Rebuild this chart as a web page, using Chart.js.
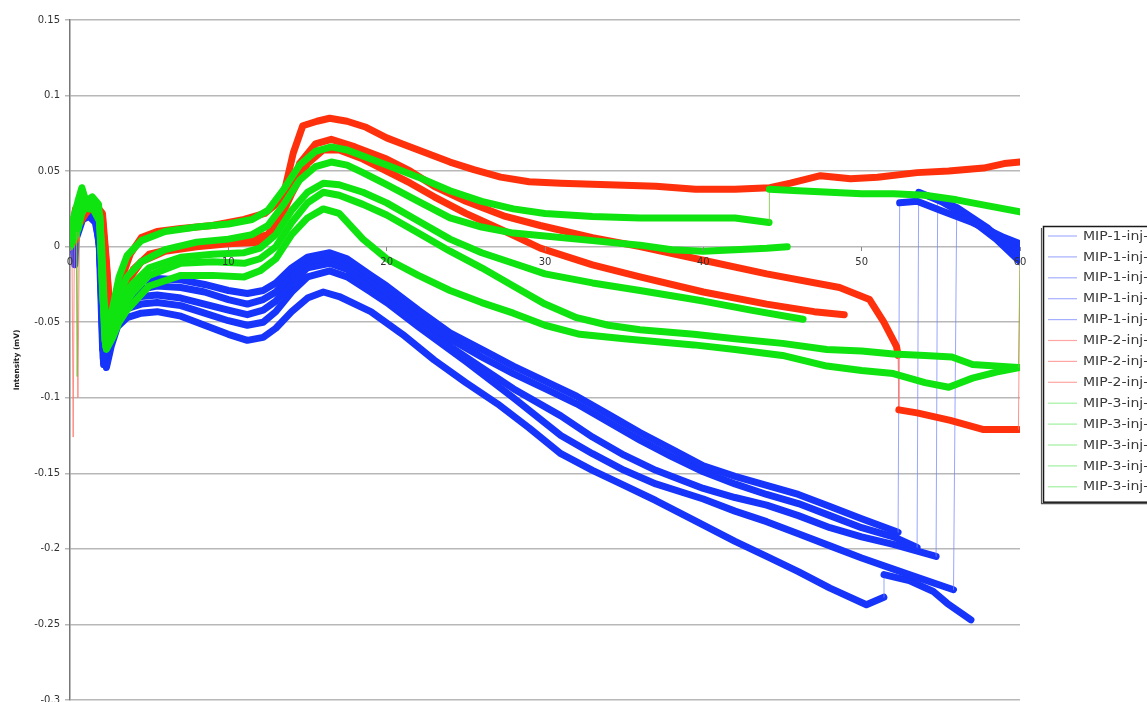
<!DOCTYPE html>
<html>
<head>
<meta charset="utf-8">
<script src="https://cdn.jsdelivr.net/npm/chart.js@4.4.0/dist/chart.umd.min.js"></script>
<style>
  html, body { margin: 0; padding: 0; background: #fff; overflow: hidden; }
  #wrap { width: 1147px; height: 712px; }
</style>
</head>
<body>
<div id="wrap"><canvas id="c" width="1147" height="712"></canvas></div>
<script>
// Axis ticks: retention time (min) and detector intensity (mV)
const xTicks = [0, 10, 20, 30, 40, 50, 60];
const yTicks = [-0.3, -0.25, -0.2, -0.15, -0.1, -0.05, 0, 0.05, 0.1, 0.15];

// Trace names
const mip1Names = ['MIP-1-inj-1', 'MIP-1-inj-2', 'MIP-1-inj-3', 'MIP-1-inj-4', 'MIP-1-inj-5'];
const mip2Names = ['MIP-2-inj-1', 'MIP-2-inj-2', 'MIP-2-inj-3'];
const mip3Names = ['MIP-3-inj-1', 'MIP-3-inj-2', 'MIP-3-inj-3', 'MIP-3-inj-4', 'MIP-3-inj-5'];

// Traces as [time (min), intensity (mV)]
const mip1Inj1 = [[0,0],[0.15,0.008],[0.3,-0.012],[0.45,0.015],[0.8,0.028],[1.2,0.024],[1.6,0.02],[1.85,0.0],[2.06,-0.068],[2.4,-0.05],[2.9,-0.036],[3.5,-0.028],[4.5,-0.023],[5.5,-0.021],[7,-0.022],[8.5,-0.025],[10,-0.029],[11.2,-0.031],[12.2,-0.029],[13,-0.024],[14,-0.014],[15,-0.007],[16.4,-0.004],[17.5,-0.008],[19,-0.019],[20,-0.026],[22,-0.042],[24,-0.057],[26,-0.068],[28,-0.079],[30,-0.089],[32,-0.099],[34,-0.111],[36,-0.123],[38,-0.134],[40,-0.145],[42,-0.152],[44,-0.158],[46,-0.164],[48,-0.172],[50,-0.18],[52.3,-0.189],[52.4,0.029],[53.5,0.03],[55,0.024],[57,0.016],[59,0.006],[60,0.002]];
const mip1Inj2 = [[0,0],[0.2,0.005],[0.5,0.018],[0.9,0.026],[1.3,0.022],[1.7,0.018],[1.9,-0.005],[2.1,-0.074],[2.45,-0.055],[3,-0.04],[3.6,-0.032],[4.5,-0.028],[5.5,-0.026],[7,-0.027],[8.5,-0.03],[10,-0.035],[11.2,-0.038],[12.2,-0.035],[13,-0.03],[14,-0.018],[15,-0.01],[16.4,-0.007],[17.5,-0.011],[19,-0.022],[20,-0.03],[22,-0.046],[24,-0.061],[26,-0.073],[28,-0.084],[30,-0.094],[32,-0.104],[34,-0.116],[36,-0.128],[38,-0.139],[40,-0.149],[42,-0.157],[44,-0.164],[46,-0.17],[48,-0.178],[50,-0.186],[52,-0.192],[53.5,-0.199],[53.6,0.036],[55,0.03],[57,0.018],[59,0.004],[60,-0.002]];
const mip1Inj3 = [[0,0],[0.25,0.004],[0.6,0.02],[1.0,0.025],[1.4,0.021],[1.8,0.015],[1.95,-0.02],[2.12,-0.078],[2.5,-0.058],[3,-0.043],[3.6,-0.036],[4.5,-0.033],[5.5,-0.032],[7,-0.034],[8.5,-0.038],[10,-0.042],[11.2,-0.045],[12.2,-0.042],[13,-0.036],[14,-0.024],[15,-0.014],[16.4,-0.011],[17.5,-0.015],[19,-0.027],[20,-0.035],[22,-0.051],[24,-0.066],[26,-0.08],[28,-0.094],[31,-0.112],[33,-0.126],[35,-0.138],[37,-0.148],[40,-0.16],[42,-0.166],[44,-0.171],[46,-0.178],[48,-0.186],[50,-0.192],[52,-0.197],[54.7,-0.205],[54.8,0.031],[56,0.026],[58,0.012],[60,-0.006]];
const mip1Inj4 = [[0,0],[0.3,0.006],[0.7,0.02],[1.1,0.022],[1.5,0.02],[1.8,0.012],[1.95,-0.02],[2.15,-0.076],[2.55,-0.06],[3,-0.048],[3.6,-0.041],[4.5,-0.038],[5.5,-0.037],[7,-0.039],[8.5,-0.044],[10,-0.049],[11.2,-0.052],[12.2,-0.05],[13,-0.043],[14,-0.03],[15,-0.02],[16.4,-0.016],[17.5,-0.02],[19,-0.03],[20,-0.037],[22,-0.053],[25,-0.076],[28,-0.1],[31,-0.125],[33,-0.137],[35,-0.148],[37,-0.157],[40,-0.167],[42,-0.175],[44,-0.182],[46,-0.19],[48,-0.198],[50,-0.206],[53,-0.217],[55.8,-0.227],[56.0,0.021],[57,0.017],[58.5,0.005],[60,-0.01]];
const mip1Inj5 = [[0,0],[0.35,0.004],[0.8,0.018],[1.2,0.02],[1.6,0.016],[1.9,0.0],[2.1,-0.06],[2.3,-0.08],[2.6,-0.066],[3,-0.053],[3.6,-0.047],[4.5,-0.044],[5.5,-0.043],[7,-0.046],[8.5,-0.052],[10,-0.058],[11.2,-0.062],[12.2,-0.06],[13,-0.054],[14,-0.043],[15,-0.034],[16,-0.03],[17,-0.033],[19,-0.043],[21,-0.058],[23,-0.075],[25,-0.09],[27,-0.104],[29,-0.12],[31,-0.137],[33,-0.148],[35,-0.158],[37,-0.168],[39.4,-0.181],[42,-0.195],[44,-0.205],[46,-0.215],[48,-0.226],[50.3,-0.237],[51.4,-0.232],[51.41,-0.217],[53,-0.221],[54.5,-0.228],[55.4,-0.236],[56.9,-0.247]];

const mip2Inj1 = [[0,0],[0.15,0.012],[0.35,0.025],[0.7,0.03],[1.1,0.024],[1.6,0.028],[2.05,0.022],[2.3,-0.01],[2.55,-0.048],[2.9,-0.04],[3.3,-0.02],[3.8,-0.005],[4.5,0.006],[5.5,0.01],[7,0.012],[9,0.014],[11,0.018],[12.3,0.022],[13,0.028],[13.5,0.035],[14.1,0.062],[14.7,0.08],[15.6,0.083],[16.4,0.085],[17.5,0.083],[18.7,0.079],[20,0.072],[21,0.068],[22.5,0.062],[24,0.056],[25.5,0.051],[27.2,0.046],[29,0.043],[31,0.042],[34,0.041],[37,0.04],[39.5,0.038],[42,0.038],[44.2,0.039],[45.5,0.042],[47.4,0.047],[49.3,0.045],[51,0.046],[53.5,0.049],[55.5,0.05],[57.7,0.052],[59,0.055],[60,0.056]];
const mip2Inj2 = [[0,0],[0.12,0.005],[0.2,-0.126],[0.28,0.01],[0.6,0.025],[1.0,0.028],[1.5,0.024],[2.0,0.022],[2.2,0.0],[2.5,-0.04],[2.8,-0.05],[3.2,-0.035],[4,-0.015],[5,-0.005],[7,0.0],[9,0.003],[11,0.004],[12.5,0.008],[13.5,0.025],[14.5,0.055],[15.5,0.068],[16.5,0.071],[18,0.066],[20,0.058],[21.5,0.05],[23,0.04],[25,0.03],[27.5,0.02],[29.7,0.014],[33,0.006],[36,0.0],[40,-0.009],[44,-0.018],[48.6,-0.027],[50.5,-0.035],[51.4,-0.05],[52.2,-0.066],[52.3,-0.072],[52.35,-0.108],[53.5,-0.11],[55.6,-0.115],[57.7,-0.121],[59.9,-0.121],[60,-0.011]];
const mip2Inj3 = [[0,0],[0.4,0.005],[0.5,-0.1],[0.6,0.015],[1.0,0.022],[1.5,0.028],[2.05,0.02],[2.2,-0.01],[2.5,-0.045],[3.0,-0.04],[3.5,-0.025],[4.5,-0.01],[6,-0.003],[8,0.0],[10,0.002],[12,0.003],[13,0.012],[14,0.035],[15,0.055],[16,0.064],[17,0.064],[18.5,0.058],[20,0.05],[21.5,0.042],[23,0.033],[25,0.022],[27.5,0.01],[29.7,-0.001],[33,-0.012],[36,-0.02],[40,-0.03],[44,-0.038],[47,-0.043],[48.9,-0.045]];

const mip3Inj1 = [[0,0],[0.2,0.018],[0.5,0.03],[0.75,0.039],[1.0,0.03],[1.4,0.033],[1.8,0.028],[2.0,0.0],[2.15,-0.035],[2.35,-0.058],[2.7,-0.04],[3.1,-0.02],[3.6,-0.006],[4.5,0.004],[6,0.01],[8,0.013],[10,0.015],[11.5,0.018],[12.5,0.024],[13.5,0.038],[14.5,0.054],[15.5,0.063],[16.5,0.066],[17.5,0.064],[18.5,0.06],[20,0.054],[22,0.046],[24,0.037],[26,0.03],[28,0.025],[30,0.022],[33,0.02],[36,0.019],[39,0.019],[42,0.019],[44.15,0.016],[44.17,0.038],[46,0.037],[48,0.036],[50,0.035],[52,0.035],[54,0.034],[56,0.031],[58,0.027],[60,0.023]];
const mip3Inj2 = [[0,0],[0.25,0.015],[0.4,0.01],[0.45,-0.086],[0.52,0.012],[0.8,0.028],[1.2,0.025],[1.6,0.03],[1.9,0.02],[2.05,-0.03],[2.3,-0.064],[2.7,-0.048],[3.1,-0.032],[3.6,-0.02],[4.5,-0.01],[6,-0.002],[8,0.003],[10,0.005],[11.5,0.008],[12.5,0.014],[13.5,0.028],[14.5,0.044],[15.5,0.053],[16.5,0.056],[17.5,0.054],[18.5,0.049],[20,0.041],[22,0.03],[24,0.019],[26,0.013],[28,0.009],[30,0.007],[33,0.004],[36,0.001],[38,-0.002],[40,-0.003],[42,-0.002],[44,-0.001],[45.3,0.0]];
const mip3Inj3 = [[0,0],[0.3,0.012],[0.6,0.026],[1.0,0.032],[1.4,0.027],[1.85,0.022],[2.0,-0.01],[2.2,-0.062],[2.5,-0.055],[2.9,-0.042],[3.4,-0.032],[4,-0.024],[5,-0.014],[7,-0.007],[9,-0.005],[11,-0.004],[12,-0.001],[13,0.008],[14,0.024],[15,0.036],[16,0.042],[17,0.041],[18.5,0.036],[20,0.029],[22,0.017],[24,0.005],[26,-0.004],[28,-0.011],[30,-0.018],[33,-0.024],[36,-0.029],[40,-0.036],[43,-0.042],[46.3,-0.048]];
const mip3Inj4 = [[0,0],[0.35,0.01],[0.7,0.024],[1.1,0.03],[1.5,0.026],[1.85,0.02],[2.0,-0.015],[2.25,-0.066],[2.6,-0.058],[3,-0.046],[3.5,-0.037],[4,-0.03],[5,-0.019],[7,-0.011],[9,-0.01],[11,-0.011],[12,-0.008],[13,0.0],[14,0.016],[15,0.029],[16,0.036],[17,0.034],[18.5,0.028],[20,0.021],[22,0.009],[24,-0.003],[26,-0.014],[28,-0.026],[30,-0.038],[32,-0.047],[34,-0.052],[36,-0.055],[39.4,-0.058],[42,-0.061],[45,-0.064],[47.8,-0.068],[50,-0.069],[52,-0.071],[54,-0.072],[55.7,-0.073],[57,-0.078],[59.9,-0.08],[60,-0.011]];
const mip3Inj5 = [[0,0],[0.4,0.008],[0.75,0.022],[1.1,0.028],[1.5,0.024],[1.9,0.016],[2.05,-0.02],[2.3,-0.068],[2.7,-0.06],[3.1,-0.05],[3.6,-0.042],[4.2,-0.035],[5,-0.026],[7,-0.019],[9,-0.019],[11,-0.02],[12,-0.016],[13,-0.008],[14,0.008],[15,0.019],[16,0.025],[17,0.022],[18.5,0.005],[20,-0.008],[22,-0.019],[24,-0.029],[26,-0.037],[28,-0.044],[30,-0.052],[32.2,-0.058],[35,-0.061],[39.4,-0.065],[42,-0.068],[45,-0.072],[47.8,-0.079],[50,-0.082],[52,-0.084],[54,-0.09],[55.5,-0.093],[57,-0.087],[58.5,-0.083],[60,-0.08]];

// Colour groups: dense trace colour, thin colour for single fast steps, legend key colour
const groups = [
  { names: mip1Names, traces: [mip1Inj1, mip1Inj2, mip1Inj3, mip1Inj4, mip1Inj5],
    color: 'rgb(22,52,250)', thin: 'rgba(120,135,255,0.75)', key: 'rgb(165,175,255)', order: 2 },
  { names: mip2Names, traces: [mip2Inj1, mip2Inj2, mip2Inj3],
    color: 'rgb(255,48,12)', thin: 'rgba(255,120,110,0.8)', key: 'rgb(255,165,165)', order: 1 },
  { names: mip3Names, traces: [mip3Inj1, mip3Inj2, mip3Inj3, mip3Inj4, mip3Inj5],
    color: 'rgb(16,228,16)', thin: 'rgba(120,190,60,0.8)', key: 'rgb(160,240,160)', order: 0 }
];

// A step faster than this (mV per min) is a single sample jump, drawn as a hairline
const STEP_RATE = 0.6;
function isStep(c) {
  const dx = c.p1.parsed.x - c.p0.parsed.x;
  const dy = Math.abs(c.p1.parsed.y - c.p0.parsed.y);
  return dx <= 0 || dy / dx > STEP_RATE;
}

const datasets = [];
groups.forEach(g => {
  g.traces.forEach((tr, i) => {
    datasets.push({
      label: g.names[i],
      data: tr.map(p => ({ x: p[0], y: p[1] })),
      borderColor: g.color,
      keyColor: g.key,
      borderWidth: 7,
      borderJoinStyle: 'round',
      borderCapStyle: 'round',
      pointRadius: 0,
      tension: 0,
      order: g.order,
      segment: {
        borderWidth: c => isStep(c) ? 1 : 7,
        borderColor: c => isStep(c) ? g.thin : g.color
      }
    });
  });
});

// Boxed key at the right-hand side
const keyBox = {
  id: 'keyBox',
  afterDraw(chart) {
    const ctx = chart.ctx;
    const left = chart.chartArea.right + 23;
    const top = 226;
    const rowH = 20.9;
    const sets = chart.data.datasets;
    const boxH = rowH * sets.length + 4;
    ctx.save();
    ctx.fillStyle = '#fff';
    ctx.fillRect(left, top, 200, boxH);
    ctx.strokeStyle = '#1a1a1a';
    ctx.lineWidth = 1.5;
    ctx.strokeRect(left + 0.5, top + 0.5, 200, boxH);
    ctx.lineWidth = 1.2;
    ctx.strokeStyle = '#555';
    ctx.beginPath();
    ctx.moveTo(left - 1.5, top + 2);
    ctx.lineTo(left - 1.5, top + boxH + 2);
    ctx.lineTo(left + 200, top + boxH + 2);
    ctx.stroke();
    ctx.font = '12px "DejaVu Sans"';
    ctx.textBaseline = 'middle';
    ctx.textAlign = 'left';
    sets.forEach((ds, i) => {
      const y = top + 10 + i * rowH;
      ctx.strokeStyle = ds.keyColor;
      ctx.lineWidth = 1.2;
      ctx.beginPath();
      ctx.moveTo(left + 5, y);
      ctx.lineTo(left + 34, y);
      ctx.stroke();
      // labels are set slightly wide, like the rest of the lettering
      ctx.save();
      ctx.translate(left + 40, y + 0.5);
      ctx.scale(1.17, 1);
      ctx.fillStyle = '#3a3a3a';
      ctx.fillText(ds.label, 0, 0);
      ctx.restore();
    });
    ctx.restore();
  }
};

new Chart(document.getElementById('c'), {
  type: 'line',
  data: { datasets },
  plugins: [keyBox],
  options: {
    responsive: false,
    animation: false,
    events: [],
    layout: { padding: { left: 0, right: 127, top: 20, bottom: 12 } },
    plugins: { legend: { display: false }, tooltip: { enabled: false } },
    scales: {
      x: {
        type: 'linear',
        min: 0, max: 60,
        position: { y: 0 },
        afterBuildTicks: s => { s.ticks = xTicks.map(v => ({ value: v })); },
        grid: { drawOnChartArea: false, drawTicks: true, tickLength: 4, color: '#888', z: 1 },
        border: { display: false },
        ticks: {
          z: 1,
          autoSkip: false, maxRotation: 0, padding: 6,
          color: '#333', font: { family: 'DejaVu Sans', size: 10 },
          callback: v => String(v)
        }
      },
      y: {
        type: 'linear',
        min: -0.3, max: 0.15,
        position: 'left',
        afterBuildTicks: s => { s.ticks = yTicks.map(v => ({ value: v })); },
        afterFit: s => { s.width = 70; },
        grid: { color: '#b8b8b8', lineWidth: 1.5, drawTicks: true, tickLength: 5 },
        border: { display: true, color: '#777', width: 1.5 },
        ticks: {
          padding: 5, color: '#333', font: { family: 'DejaVu Sans', size: 10 },
          callback: v => String(Number(v.toFixed(2)))
        },
        title: {
          display: true, text: 'Intensity (mV)', color: '#222',
          font: { family: 'DejaVu Sans', size: 7.5, weight: 'bold' },
          padding: { top: 13, bottom: 0 }
        }
      }
    }
  }
});
</script>
</body>
</html>
